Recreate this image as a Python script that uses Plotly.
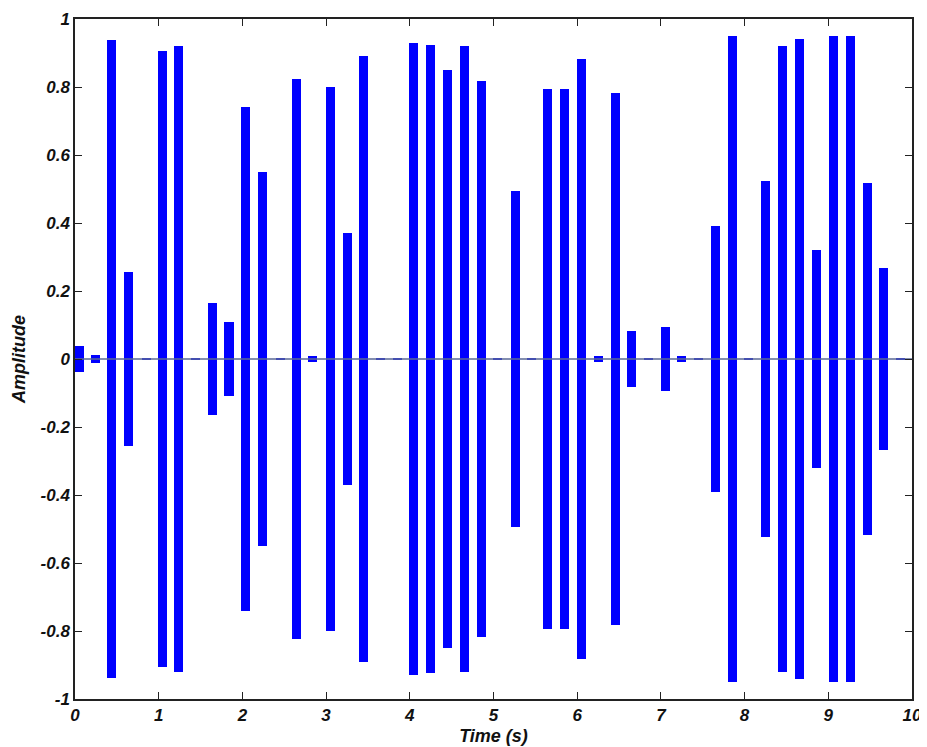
import plotly.graph_objects as go

# Burst centre times (s)
burst_times = [0.05, 0.24, 0.44, 0.64, 0.85, 1.045, 1.24, 1.44, 1.645, 1.84,
               2.04, 2.24, 2.45, 2.645, 2.84, 3.05, 3.255, 3.45, 3.65, 3.85,
               4.045, 4.245, 4.45, 4.655, 4.855, 5.05, 5.26, 5.45, 5.645, 5.85,
               6.055, 6.25, 6.46, 6.65, 6.85, 7.05, 7.25, 7.45, 7.65, 7.855,
               8.05, 8.255, 8.45, 8.655, 8.86, 9.06, 9.265, 9.465, 9.66, 9.86]

# Peak amplitude of each burst
burst_amps = [0.037, 0.013, 0.937, 0.257, 0.004, 0.905, 0.921, 0.004, 0.165, 0.108,
              0.741, 0.550, 0.004, 0.823, 0.010, 0.800, 0.372, 0.890, 0.004, 0.004,
              0.929, 0.924, 0.851, 0.920, 0.818, 0.004, 0.495, 0.004, 0.794, 0.794,
              0.883, 0.010, 0.782, 0.083, 0.004, 0.093, 0.010, 0.004, 0.390, 0.951,
              0.004, 0.524, 0.922, 0.942, 0.321, 0.951, 0.951, 0.518, 0.268, 0.004]

x_ticks = [0, 1, 2, 3, 4, 5, 6, 7, 8, 9, 10]
y_ticks = [-1, -0.8, -0.6, -0.4, -0.2, 0, 0.2, 0.4, 0.6, 0.8, 1]
y_tick_labels = ["-1", "-0.8", "-0.6", "-0.4", "-0.2", "0", "0.2", "0.4", "0.6", "0.8", "1"]

baseline_x = [0, 10]
baseline_y = [0, 0]

fig = go.Figure()

fig.add_trace(go.Scatter(
    x=baseline_x, y=baseline_y, mode="lines",
    line=dict(color="#5a6896", width=1.5), showlegend=False, hoverinfo="skip"))

fig.add_trace(go.Bar(
    x=burst_times,
    y=[2 * a for a in burst_amps],
    base=[-a for a in burst_amps],
    width=0.108,
    marker=dict(color="#0000FF", line=dict(width=0)),
    showlegend=False))

tick_font = dict(family="Liberation Sans, Arial", size=17, color="#111111",
                 weight="bold", style="italic")
title_font = dict(family="Liberation Sans, Arial", size=18, color="#111111",
                  weight="bold", style="italic")

fig.update_layout(
    width=919, height=739,
    margin=dict(l=67, r=15, t=11, b=48),
    paper_bgcolor="white", plot_bgcolor="white",
    bargap=0,
    xaxis=dict(range=[0, 10], tickvals=x_ticks, ticks="inside", ticklen=7,
               tickcolor="#222222", showline=True, linecolor="#222222", linewidth=1.5,
               mirror="ticks", showgrid=False, zeroline=False, tickfont=tick_font,
               automargin=False,
               title=dict(text="Time (s)", font=title_font, standoff=5)),
    yaxis=dict(range=[-1, 1], tickvals=y_ticks, ticktext=y_tick_labels,
               ticks="inside", ticklen=7, tickcolor="#222222",
               showline=True, linecolor="#222222", linewidth=1.5, mirror="ticks",
               showgrid=False, zeroline=False, tickfont=tick_font,
               automargin=False,
               title=dict(text="Amplitude", font=title_font, standoff=10)),
)

fig.write_html("out.html")
